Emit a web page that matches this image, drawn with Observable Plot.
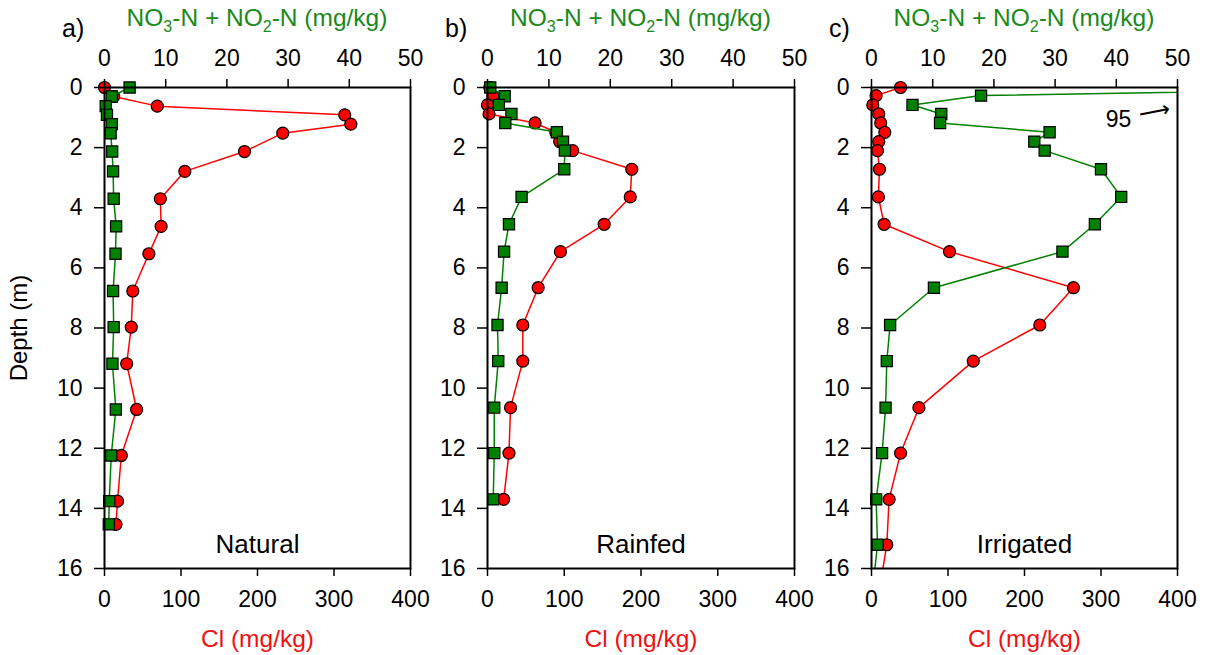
<!DOCTYPE html>
<html><head><meta charset="utf-8">
<script src="https://cdn.jsdelivr.net/npm/d3@7"></script>
<script src="https://cdn.jsdelivr.net/npm/@observablehq/plot@0.6"></script>
<style>
html,body{margin:0;padding:0;background:#fff;overflow:hidden;}
#wrap{position:relative;width:1205px;height:655px;font-family:"Liberation Sans",Arial,sans-serif;}
#wrap svg{position:absolute;left:0;top:0;max-width:none;}
.ttl{position:absolute;top:6px;color:#1a8a1a;font-size:24.5px;line-height:24.5px;text-align:center;white-space:nowrap;}
.ttl sub{font-size:16px;line-height:0;vertical-align:baseline;position:relative;top:6px;}
.pl{position:absolute;top:16px;font-size:25px;line-height:25px;color:#000;}
</style>
</head><body>
<div id="wrap"></div>
<script>
// ---- data ----
const panelNames = ["Natural", "Rainfed", "Irrigated"];
const panelLetters = ["a)", "b)", "c)"];
const depthTicks = [0, 2, 4, 6, 8, 10, 12, 14, 16];
const clTicks = [0, 100, 200, 300, 400];
const no3Ticks = [0, 10, 20, 30, 40, 50];

const depthA = [0, 0.3, 0.62, 0.91, 1.22, 1.52, 2.13, 2.79, 3.7, 4.62, 5.53, 6.77, 7.97, 9.19, 10.71, 12.24, 13.76, 14.53];
const clA    = [0, 12, 69, 314, 322, 233, 183, 105, 73, 74, 58, 37, 35, 29, 42, 22, 17, 15];
const no3A   = [4.1, 1.2, 0.2, 0.4, 1.2, 1.0, 1.25, 1.4, 1.5, 1.9, 1.8, 1.4, 1.5, 1.3, 1.85, 1.1, 0.77, 0.7];

const depthB = [0, 0.29, 0.58, 0.88, 1.18, 1.49, 1.8, 2.1, 2.72, 3.64, 4.55, 5.46, 6.66, 7.9, 9.1, 10.65, 12.16, 13.7];
const clB    = [3, 7, 0, 2, 62, 89, 94, 111, 188, 186, 152, 95, 66, 46, 46, 30, 28, 21];
const no3B   = [0.44, 2.8, 1.85, 3.9, 2.9, 11.3, 12.3, 12.6, 12.5, 5.55, 3.5, 2.7, 2.3, 1.63, 1.75, 1.1, 1.1, 0.93];

const depthC = [0, 0.27, 0.58, 0.88, 1.18, 1.49, 1.8, 2.1, 2.72, 3.64, 4.55, 5.46, 6.66, 7.9, 9.1, 10.65, 12.16, 13.7, 15.21, 16.76];
const clC    = [38, 6, 1.7, 9.5, 12, 17.4, 9.5, 7.8, 10.4, 9, 16.5, 102, 264, 220, 133, 62, 38, 23, 20, 10];
const no3C   = [95, 17.9, 6.7, 11.4, 11.2, 29.1, 26.6, 28.3, 37.5, 40.8, 36.5, 31.2, 10.2, 3.04, 2.5, 2.3, 1.73, 0.76, 0.98, 0.15];

const offScaleLabel = "95";

// ---- styling / layout ----
const RED = "#ff0000", GREEN = "#008000", RED_TXT = "#f01010";
const W = 1205, H = 655, MT = 87, MB = 87;
const frames = [[104, 410], [487, 794], [871, 1177]];
const FONT = "'Liberation Sans', Arial, sans-serif";
const K = 400 / 50; // NO3 axis mapped onto Cl axis range

const panels = [
  {depth: depthA, cl: clA, no3: no3A},
  {depth: depthB, cl: clB, no3: no3B},
  {depth: depthC, cl: clC, no3: no3C}
];

const wrap = document.getElementById("wrap");

panels.forEach((p, i) => {
  const rows = p.depth.map((d, j) => ({depth: d, cl: p.cl[j], no3: p.no3[j]}));
  const [L, R] = frames[i];
  const marks = [
    Plot.line(rows, {x: "cl", y: "depth", stroke: RED, strokeWidth: 1.5, clip: "frame"}),
    Plot.dot(rows.filter(d => d.depth <= 16 && d.cl <= 400), {x: "cl", y: "depth", r: 6, fill: RED, stroke: "black", strokeWidth: 1.2}),
    Plot.line(rows, {x: d => d.no3 * K, y: "depth", stroke: GREEN, strokeWidth: 1.5, clip: "frame"}),
    Plot.dot(rows.filter(d => d.depth <= 16 && d.no3 <= 50), {x: d => d.no3 * K, y: "depth", symbol: "square", r: 6.3, fill: GREEN, stroke: "black", strokeWidth: 1.2}),
    Plot.frame({stroke: "black", strokeWidth: 2}),
    Plot.axisY({ticks: depthTicks, tickSize: 10, tickPadding: 12, fontSize: 23, label: null, strokeWidth: 1.5}),
    Plot.axisX({anchor: "bottom", ticks: clTicks, tickSize: 8, tickPadding: 14, fontSize: 23, label: null, strokeWidth: 1.5}),
    Plot.axisX({anchor: "top", ticks: no3Ticks.map(v => v * K), tickFormat: v => v / K, tickSize: 9, tickPadding: 13, fontSize: 23, label: null, strokeWidth: 1.5}),
    Plot.text(["Cl (mg/kg)"], {text: d => d, frameAnchor: "bottom", textAnchor: "middle", lineAnchor: "middle", dy: 70.7, fontSize: 24.5, fill: RED_TXT}),
    Plot.text([panelNames[i]], {text: d => d, frameAnchor: "bottom", textAnchor: "middle", lineAnchor: "middle", dy: -24, fontSize: 26, fill: "black"})
  ];
  if (i === 0) {
    marks.push(Plot.text(["Depth (m)"], {text: d => d, frameAnchor: "left", textAnchor: "middle", lineAnchor: "middle", dx: -85, dy: 0, rotate: -90, fontSize: 24, fill: "black"}));
  }
  if (i === 2) {
    marks.push(Plot.text([offScaleLabel], {text: d => d, frameAnchor: "top-right", textAnchor: "middle", lineAnchor: "middle", dx: -59, dy: 32, fontSize: 23, fill: "black"}));
    marks.push(Plot.text(["\u27F6"], {text: d => d, frameAnchor: "top-right", textAnchor: "middle", lineAnchor: "middle", dx: -23, dy: 24, rotate: -11, fontSize: 22, fontFamily: "DejaVu Sans", fill: "black"}));
  }
  const svg = Plot.plot({
    width: W, height: H,
    marginLeft: L, marginRight: W - R, marginTop: MT, marginBottom: MB,
    style: {background: "transparent", fontFamily: FONT, fontSize: "23px", color: "black", overflow: "visible"},
    x: {domain: [0, 400]},
    y: {domain: [0, 16], reverse: true},
    marks
  });
  wrap.appendChild(svg);

  const t = document.createElement("div");
  t.className = "ttl";
  t.style.left = L + "px";
  t.style.width = (R - L) + "px";
  t.innerHTML = "NO<sub>3</sub>-N + NO<sub>2</sub>-N (mg/kg)";
  wrap.appendChild(t);

  const pl = document.createElement("div");
  pl.className = "pl";
  pl.style.left = (L - 42) + "px";
  pl.textContent = panelLetters[i];
  wrap.appendChild(pl);
});
</script>
</body></html>
